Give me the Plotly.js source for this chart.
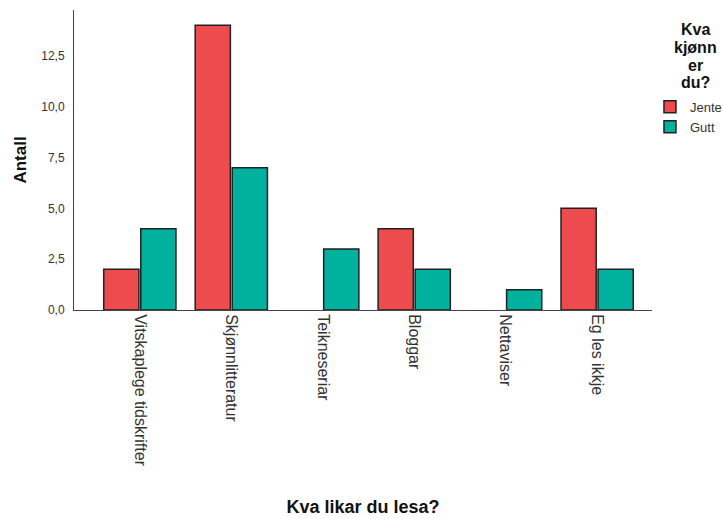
<!DOCTYPE html>
<html>
<head>
<meta charset="utf-8">
<script src="https://cdn.plot.ly/plotly-3.0.1.min.js"></script>
<style>html,body{margin:0;padding:0;background:#fff;}#chart{width:723px;height:519px;}</style>
</head>
<body>
<div id="chart"></div>
<script>
const categories = ["Vitskaplege tidskrifter", "Skjønnlitteratur", "Teikneseriar", "Bloggar", "Nettaviser", "Eg les ikkje"];
const jente = [2, 14, 0, 4, 0, 5];
const gutt = [4, 7, 3, 2, 1, 2];
const seriesNames = ["Jente", "Gutt"];
const colors = ["#EE4B4E", "#00B29E"];
const legendTitleLines = ["Kva", "kjønn", "er", "du?"];

const traces = [jente, gutt].map((vals, i) => ({
  type: "bar",
  name: seriesNames[i],
  x: categories,
  y: vals,
  marker: {color: colors[i], line: {color: "#222", width: vals.map(v => v > 0 ? 1.5 : 0)}},
  hoverinfo: "x+y+name"
}));

// legend title lines, stacked with a tight line spacing (pixels from the plot top)
const plotTop = 10, plotH = 300, firstLineMid = 30, lineStep = 17.5;
const titleAnnotations = legendTitleLines.map((t, i) => ({
  xref: "paper", yref: "paper", x: 1.0744,
  y: 1 - (firstLineMid + i * lineStep - plotTop) / plotH,
  xanchor: "center", yanchor: "middle",
  text: t, showarrow: false, align: "center",
  font: {size: 16, color: "#111", weight: "bold"}
}));

const layout = {
  width: 723, height: 519,
  margin: {l: 74, r: 71, t: 10, b: 209, autoexpand: false},
  paper_bgcolor: "#fff", plot_bgcolor: "#fff",
  separators: ",.",
  barmode: "group",
  bargap: 0.19,
  bargroupgap: 0.05,
  font: {family: "Arial, Liberation Sans, sans-serif", color: "#333"},
  xaxis: {
    range: [-0.72, 5.6],
    tickangle: 90,
    tickfont: {size: 16, color: "#333"},
    showline: true, linecolor: "#444", linewidth: 1,
    showgrid: false, zeroline: false, ticks: "",
    automargin: false,
    title: {text: "Kva likar du lesa?", font: {size: 18, color: "#111", weight: "bold"}, standoff: 34}
  },
  yaxis: {
    range: [0, 14.75],
    tick0: 0, dtick: 2.5, tickformat: ".1f",
    tickfont: {size: 12, color: "#333"},
    showline: true, linecolor: "#444", linewidth: 1,
    showgrid: false, zeroline: false, ticks: "",
    ticklabelstandoff: 6,
    automargin: false,
    title: {text: "Antall", font: {size: 17, color: "#111", weight: "bold"}, standoff: 10}
  },
  legend: {
    x: 0.9965, xanchor: "left", y: 0.727, yanchor: "top",
    font: {size: 13, color: "#333"},
    tracegroupgap: 0
  },
  annotations: titleAnnotations,
  showlegend: true
};

Plotly.newPlot("chart", traces, layout, {displayModeBar: false, staticPlot: true});
</script>
</body>
</html>
